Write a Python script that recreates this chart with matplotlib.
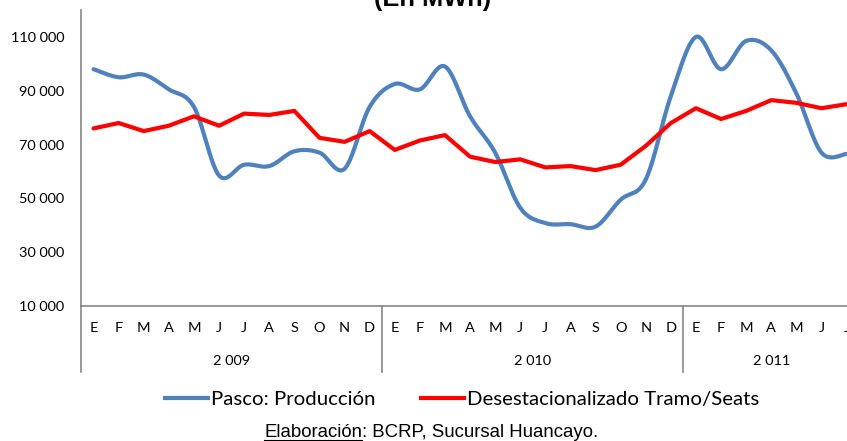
import numpy as np
import matplotlib
matplotlib.use("Agg")
import matplotlib.pyplot as plt
from matplotlib.lines import Line2D

# ---------------- data ----------------
month_letters = ["E", "F", "M", "A", "M", "J", "J", "A", "S", "O", "N", "D"]
years = ["2 009", "2 010", "2 011"]
months_per_year = [12, 12, 7]

produccion = [98000, 95000, 96000, 90500, 84000, 58500, 62500, 62000, 67500, 67000, 61000, 84000,
              92500, 90500, 99000, 80500, 67000, 46500, 40800, 40400, 39500, 49500, 57000, 88000,
              110000, 98000, 108500, 105000, 89000, 67000, 66500]
desestacionalizado = [76000, 78000, 75000, 77000, 80500, 77000, 81500, 81000, 82500, 72500, 71000, 75000,
                      68000, 71500, 73500, 65500, 63500, 64500, 61500, 62000, 60500, 62500, 69500, 78000,
                      83500, 79500, 82500, 86500, 85500, 83500, 85000]

y_ticks = [10000, 30000, 50000, 70000, 90000, 110000]
y_tick_labels = ["10 000", "30 000", "50 000", "70 000", "90 000", "110 000"]

series_labels = ["Pasco: Producción", "Desestacionalizado Tramo/Seats"]
title_text = "(En MWh)"
footer_under = "Elaboración"
footer_rest = ": BCRP, Sucursal Huancayo."

BLUE = "#4F81BD"
RED = "#FF0000"
GRAY = "#868686"

W, H = 847, 441
fig = plt.figure(figsize=(W / 100, H / 100), dpi=100)
renderer = fig.canvas.get_renderer()

def fit_size(text, family, target_px, weight="normal", base=10.0):
    t = fig.text(0, 0, text, fontsize=base, family=family, weight=weight)
    w = t.get_window_extent(renderer).width
    t.remove()
    return base * target_px / w

CAL = ["Lato", "DejaVu Sans"]
ARI = ["Liberation Sans", "DejaVu Sans"]

tick_fs = fit_size("110 000", CAL, 54)
legend_fs = fit_size(series_labels[0], CAL, 164)
footer_fs = fit_size(footer_under + footer_rest, ARI, 337)
title_fs = fit_size(title_text, ARI, 117, weight="bold")

# axes geometry (pixels)
n = len(produccion)
px_per_month = 25.1
ax_left, ax_bottom_px, ax_top_px = 81, 306, 10
ax_right = ax_left + n * px_per_month
ax = fig.add_axes([ax_left / W, 1 - ax_bottom_px / H, (ax_right - ax_left) / W,
                   (ax_bottom_px - ax_top_px) / H])
ax.set_xlim(-0.5, n - 0.5)
ax.set_ylim(10000, 120000)

x = np.arange(n)

def catmull_rom(xs, ys, steps=24):
    P = np.column_stack([xs, ys]).astype(float)
    P = np.vstack([P[0], P, P[-1]])
    out = []
    for i in range(1, len(P) - 2):
        p0, p1, p2, p3 = P[i - 1], P[i], P[i + 1], P[i + 2]
        t = np.linspace(0, 1, steps, endpoint=False)[:, None]
        seg = 0.5 * (2 * p1 + (-p0 + p2) * t + (2 * p0 - 5 * p1 + 4 * p2 - p3) * t ** 2
                     + (-p0 + 3 * p1 - 3 * p2 + p3) * t ** 3)
        out.append(seg)
    out.append(P[-2][None, :])
    out = np.vstack(out)
    return out[:, 0], out[:, 1]

sx, sy = catmull_rom(x, produccion)
ax.plot(sx, sy, color=BLUE, lw=3.0, solid_capstyle="round", solid_joinstyle="round", clip_on=False)
ax.plot(x, desestacionalizado, color=RED, lw=3.0, solid_capstyle="round", solid_joinstyle="round", clip_on=False)

for s in ["top", "right"]:
    ax.spines[s].set_visible(False)
for s in ["left", "bottom"]:
    ax.spines[s].set_color(GRAY)
    ax.spines[s].set_linewidth(1.2)
ax.set_yticks(y_ticks)
ax.set_yticklabels(y_tick_labels, family=CAL, fontsize=tick_fs)
ax.tick_params(axis="y", length=0, pad=12)
ax.set_xticks([])
ax.patch.set_alpha(0)

# multi-level category axis
def ax_frac(px):
    return (ax_bottom_px - px) / (ax_bottom_px - ax_top_px)

xt = ax.get_xaxis_transform()
i = 0
start = -0.5
for yr, cnt in zip(years, months_per_year):
    for m in range(cnt):
        ax.text(i, ax_frac(328), month_letters[m], transform=xt, ha="center", va="center",
                fontsize=tick_fs, family=CAL, clip_on=False)
        i += 1
    end = start + 12
    vis_end = min(end, n - 0.5)
    ax.text((start + vis_end) / 2, ax_frac(361), yr, transform=xt, ha="center", va="center",
            fontsize=tick_fs, family=CAL, clip_on=False)
    start = end

for bx in [-0.5, 11.5, 23.5]:
    ax.add_line(Line2D([bx, bx], [0, ax_frac(372)], transform=xt, color=GRAY, lw=1.2, clip_on=False))

# title (partially cut at top)
fig.text(433 / W, 1 - 6 / H, title_text, ha="center", va="baseline", fontsize=title_fs,
         family=ARI, weight="bold")

# legend
handles = [Line2D([], [], color=BLUE, lw=3.0), Line2D([], [], color=RED, lw=3.0)]
legend_px = legend_fs * 100 / 72
fig.legend(handles, series_labels, loc="center", bbox_to_anchor=(462 / W, 1 - 399 / H), ncol=2,
           frameon=False, prop={"family": CAL, "size": legend_fs},
           handlelength=43 / legend_px, handletextpad=3 / legend_px, columnspacing=46 / legend_px,
           borderpad=0, borderaxespad=0)

# footer with underlined part
t1 = fig.text(264 / W, 1 - 437 / H, footer_under, ha="left", va="baseline", fontsize=footer_fs, family=ARI)
bb = t1.get_window_extent(renderer)
fig.text(bb.x1 / W, 1 - 437 / H, footer_rest, ha="left", va="baseline", fontsize=footer_fs, family=ARI)
uy = 1 - 439.5 / H
fig.add_artist(Line2D([bb.x0 / W, bb.x1 / W], [uy, uy], color="black", lw=0.8, transform=fig.transFigure))

fig.savefig("out.png", dpi=100)
